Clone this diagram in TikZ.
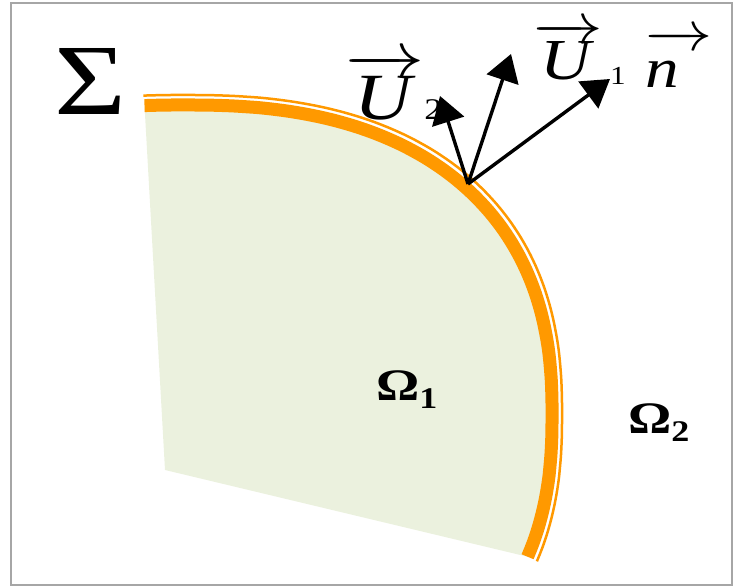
\RequirePackage{fix-cm}
\documentclass[tikz,border=0pt]{standalone}
\usepackage{fontspec}
\setmainfont{Liberation Serif}
\usetikzlibrary{arrows.meta}
\definecolor{bandorange}{RGB}{255,153,0}
\definecolor{regiongreen}{RGB}{235,241,222}
\newcommand\widen[1]{\scalebox{1.2}[1]{#1}}
% rounded quarter of the interface, radii #1 and #2
\newcommand\sectorarc[2]{plot[domain=-23:94,samples=79,smooth]
  ({185+#1*sign(cos(\x))*abs(cos(\x))^0.833},{415-#2*sign(sin(\x))*abs(sin(\x))^0.833})}

\begin{document}
\begin{tikzpicture}[x=1pt,y=-1pt,
  region/.style={fill=regiongreen,draw=none},
  band/.style={draw=bandorange,line width=13pt},
  rim/.style={draw=bandorange,line width=2.5pt},
  vecarr/.style={-{Triangle[length=27pt,width=33pt]},line width=3.4pt,black},
  lbl/.style={inner sep=0pt,anchor=base west,text=black},
  frame/.style={draw=black!35,line width=2pt}]
\useasboundingbox (0,0) rectangle (734,588);
%%
%% Frame
\draw[frame] (11,3) rectangle (732,585);
%%
%% Region Omega_1, bounded by the interface
\fill[region] \sectorarc{367}{310} -- (165,470) -- cycle;
%%
%% Interface Sigma: thick band and thin outer rim
\draw[band] \sectorarc{367}{310};
\draw[rim]  \sectorarc{377}{320};
%%
%% Labels
\node[lbl](sigma)  at ( 54,115) {\resizebox{72pt}{66pt}{Σ}};
\node[lbl](labu2)  at (345,120) {\widen{\fontsize{66}{66}\selectfont
  $\overrightarrow{\mbox{\itshape U\/}}$\fontsize{30}{30}\selectfont 2}};
\node[lbl](labu1)  at (533, 80) {\widen{\fontsize{58}{58}\selectfont
  $\overrightarrow{\mbox{\itshape U\/}}$\hspace{6pt}\raisebox{-5pt}{\fontsize{26}{26}\selectfont 1}}};
\node[lbl](labn)   at (645, 88) {\widen{\fontsize{56}{56}\selectfont
  $\overrightarrow{\vphantom{U}\mbox{\itshape n}\hspace{0.5em}}$}};
\node[lbl](omega1) at (376,400) {\widen{\bfseries\fontsize{45}{45}\selectfont
  Ω\raisebox{-8pt}{\fontsize{30}{30}\selectfont 1}}};
\node[lbl](omega2) at (628,433) {\widen{\bfseries\fontsize{45}{45}\selectfont
  Ω\raisebox{-8pt}{\fontsize{30}{30}\selectfont 2}}};
%%
%% Foot point on the interface and vector tips
\coordinate (foot)   at (468,184);
\coordinate (tipu2)  at (440, 96);
\coordinate (tipu1)  at (511, 54);
\coordinate (tipn)   at (610, 79);
%%
%% Vectors U_2, U_1 and n
\draw[vecarr](foot) -- (tipu2);
\draw[vecarr](foot) -- (tipu1);
\draw[vecarr](foot) -- (tipn);
\end{tikzpicture}
\end{document}
